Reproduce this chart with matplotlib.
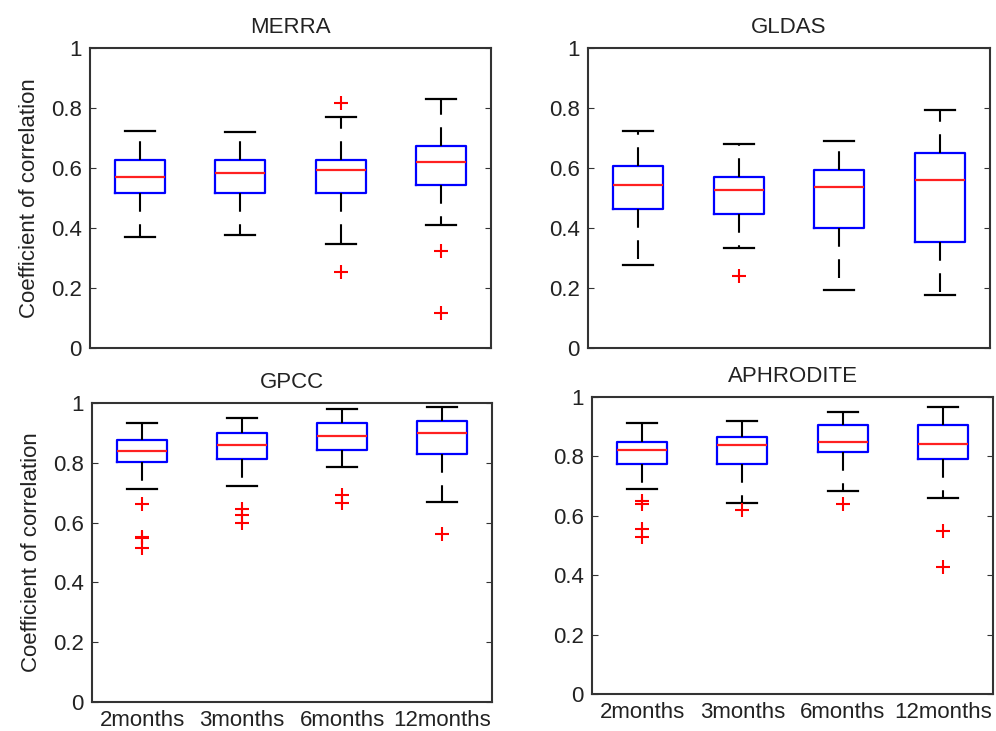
import matplotlib
matplotlib.use("Agg")
import matplotlib.pyplot as plt

plt.rcParams['font.family'] = ['Liberation Sans', 'DejaVu Sans']

categories = ["2months", "3months", "6months", "12months"]
titles = ["MERRA", "GLDAS", "GPCC", "APHRODITE"]

# per panel: whisker low, Q1, median, Q3, whisker high, outliers
merra_lo = [0.370, 0.376, 0.347, 0.411]
merra_q1 = [0.516, 0.516, 0.516, 0.543]
merra_med = [0.571, 0.582, 0.594, 0.621]
merra_q3 = [0.627, 0.627, 0.627, 0.674]
merra_hi = [0.725, 0.719, 0.769, 0.830]
merra_fl = [[], [], [0.816, 0.254], [0.324, 0.118]]

gldas_lo = [0.278, 0.335, 0.194, 0.178]
gldas_q1 = [0.463, 0.447, 0.401, 0.354]
gldas_med = [0.542, 0.526, 0.538, 0.559]
gldas_q3 = [0.607, 0.571, 0.594, 0.649]
gldas_hi = [0.725, 0.679, 0.690, 0.794]
gldas_fl = [[], [0.239], [], []]

gpcc_lo = [0.712, 0.722, 0.785, 0.670]
gpcc_q1 = [0.801, 0.813, 0.844, 0.830]
gpcc_med = [0.838, 0.859, 0.888, 0.901]
gpcc_q3 = [0.875, 0.899, 0.933, 0.939]
gpcc_hi = [0.933, 0.950, 0.980, 0.985]
gpcc_fl = [[0.663, 0.553, 0.547, 0.514], [0.645, 0.626, 0.598], [0.693, 0.665], [0.562]]

aphro_lo = [0.690, 0.642, 0.684, 0.661]
aphro_q1 = [0.776, 0.774, 0.816, 0.792]
aphro_med = [0.823, 0.838, 0.850, 0.843]
aphro_q3 = [0.850, 0.866, 0.906, 0.906]
aphro_hi = [0.912, 0.918, 0.948, 0.965]
aphro_fl = [[0.649, 0.639, 0.556, 0.527], [0.618], [0.641], [0.548, 0.429]]

panels = [
    (merra_lo, merra_q1, merra_med, merra_q3, merra_hi, merra_fl),
    (gldas_lo, gldas_q1, gldas_med, gldas_q3, gldas_hi, gldas_fl),
    (gpcc_lo, gpcc_q1, gpcc_med, gpcc_q3, gpcc_hi, gpcc_fl),
    (aphro_lo, aphro_q1, aphro_med, aphro_q3, aphro_hi, aphro_fl),
]

yticks = [0, 0.2, 0.4, 0.6, 0.8, 1]
ytick_labels = ["0", "0.2", "0.4", "0.6", "0.8", "1"]

positions_axes = [
    [0.0904, 0.5239, 0.4026, 0.4104],
    [0.5904, 0.5239, 0.4036, 0.4104],
    [0.0924, 0.0397, 0.4016, 0.4090],
    [0.5944, 0.0506, 0.4026, 0.4063],
]

fig = plt.figure(figsize=(9.96, 7.31), dpi=100)
text_color = "#222222"

for i, (lo, q1, med, q3, hi, fl) in enumerate(panels):
    ax = fig.add_axes(positions_axes[i])
    stats = []
    for j in range(len(categories)):
        stats.append(dict(whislo=lo[j], q1=q1[j], med=med[j], q3=q3[j],
                          whishi=hi[j], fliers=fl[j], label=categories[j]))
    ax.bxp(stats, positions=[1, 2, 3, 4], widths=0.5, showfliers=True,
           boxprops=dict(color="#0000ff", linewidth=1.6),
           medianprops=dict(color="#ff2020", linewidth=1.6),
           whiskerprops=dict(color="black", linewidth=1.5, linestyle=(0, (9, 6))),
           capprops=dict(color="black", linewidth=1.6),
           capwidths=0.3,
           flierprops=dict(marker="+", markeredgecolor="red", markersize=10,
                           markeredgewidth=1.5, linestyle="none"))
    ax.set_xlim(0.5, 4.5)
    ax.set_ylim(0, 1)
    ax.set_yticks(yticks)
    ax.set_yticklabels(ytick_labels, fontsize=16, color=text_color)
    ax.tick_params(axis="y", direction="in", length=4, right=True, left=True,
                   color="#333333", pad=6)
    ax.tick_params(axis="x", length=0, pad=6)
    ax.set_xticks([1, 2, 3, 4])
    if i >= 2:
        ax.set_xticklabels(categories, fontsize=16, color=text_color)
    else:
        ax.set_xticklabels([])
    ax.set_title(titles[i], fontsize=16, color=text_color, pad=11)
    if i % 2 == 0:
        ax.set_ylabel("Coefficient of correlation", fontsize=16, color=text_color, labelpad=8)
    for s in ax.spines.values():
        s.set_color("#333333")
        s.set_linewidth(1.5)

fig.savefig("out.png", dpi=100)
